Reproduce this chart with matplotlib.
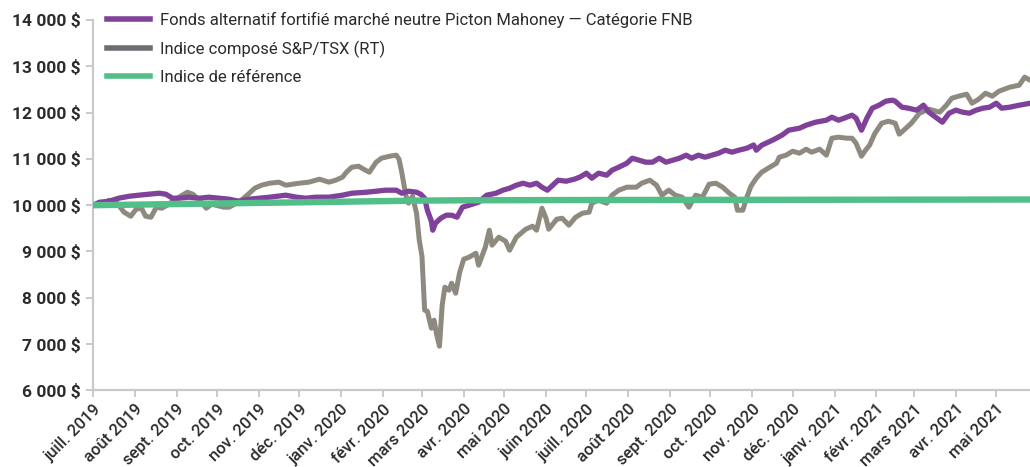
import matplotlib
matplotlib.use("Agg")
import matplotlib.pyplot as plt
import matplotlib.dates as mdates
from matplotlib.lines import Line2D
from matplotlib.ticker import FuncFormatter
import pandas as pd

# ---------------- data ----------------
tsx_dates = ["2019-07-01","2019-07-08","2019-07-13","2019-07-19","2019-07-24","2019-07-29","2019-08-02","2019-08-06",
"2019-08-09","2019-08-13","2019-08-17","2019-08-21","2019-08-25","2019-08-30","2019-09-04","2019-09-09","2019-09-13",
"2019-09-18","2019-09-23","2019-09-27","2019-09-30","2019-10-06","2019-10-10","2019-10-14","2019-10-19","2019-10-25",
"2019-10-29","2019-11-03","2019-11-09","2019-11-16","2019-11-21","2019-11-26","2019-12-01","2019-12-08","2019-12-16",
"2019-12-23","2019-12-28","2020-01-02","2020-01-05","2020-01-09","2020-01-14","2020-01-19","2020-01-22","2020-01-27",
"2020-01-31","2020-02-06","2020-02-11","2020-02-13","2020-02-15","2020-02-18","2020-02-20","2020-02-23","2020-02-26",
"2020-02-28","2020-03-01","2020-03-03","2020-03-05","2020-03-08","2020-03-10","2020-03-12","2020-03-14","2020-03-16",
"2020-03-18","2020-03-21","2020-03-23","2020-03-26","2020-03-29","2020-04-01","2020-04-05","2020-04-10","2020-04-12",
"2020-04-17","2020-04-20","2020-04-22","2020-04-27","2020-05-02","2020-05-05","2020-05-10","2020-05-17","2020-05-22",
"2020-05-25","2020-05-29","2020-06-01","2020-06-03","2020-06-09","2020-06-13","2020-06-18","2020-06-23","2020-06-28",
"2020-07-03","2020-07-05","2020-07-10","2020-07-16","2020-07-20","2020-07-25","2020-07-31","2020-08-07","2020-08-11",
"2020-08-17","2020-08-22","2020-08-26","2020-08-31","2020-09-05","2020-09-10","2020-09-15","2020-09-20","2020-09-25",
"2020-09-30","2020-10-05","2020-10-10","2020-10-15","2020-10-19","2020-10-21","2020-10-25","2020-10-28","2020-10-31",
"2020-11-04","2020-11-08","2020-11-14","2020-11-19","2020-11-21","2020-11-26","2020-12-01","2020-12-06","2020-12-11",
"2020-12-15","2020-12-21","2020-12-26","2020-12-30","2021-01-04","2021-01-10","2021-01-14","2021-01-17","2021-01-21",
"2021-01-24","2021-01-27","2021-01-31","2021-02-05","2021-02-10","2021-02-15","2021-02-18","2021-02-23","2021-02-27",
"2021-03-05","2021-03-12","2021-03-20","2021-03-25","2021-03-29","2021-04-03","2021-04-09","2021-04-13","2021-04-18",
"2021-04-23","2021-04-28","2021-05-03","2021-05-11","2021-05-18","2021-05-22","2021-05-26","2021-05-28"]
tsx_values = [10000,10022,10108,10043,9849,9762,9914,9935,
9762,9741,9957,9935,10000,10108,10194,10281,10238,
10108,9935,10022,10000,9957,9957,10022,10108,10259,
10367,10432,10475,10497,10432,10454,10475,10497,10562,
10497,10540,10605,10713,10821,10842,10756,10713,10929,
11015,11058,11080,10994,10713,10216,10043,10194,9827,
9244,8898,7732,7710,7343,7516,7192,6954,7840,
8229,8164,8315,8099,8553,8834,8877,8963,8704,
9093,9460,9136,9309,9222,9028,9309,9482,9546,
9460,9935,9719,9482,9698,9719,9568,9741,9827,
9849,10043,10108,10043,10216,10324,10389,10389,10475,
10540,10432,10216,10324,10216,10173,9957,10216,10173,
10454,10475,10389,10259,10173,9892,9892,10173,10410,
10583,10713,10821,10907,11037,11080,11166,11123,11210,
11145,11210,11080,11447,11469,11447,11447,11339,11058,
11188,11296,11555,11771,11814,11771,11534,11663,11771,
11987,12074,12009,12160,12311,12354,12398,12203,12290,
12419,12354,12462,12549,12592,12765,12700,12720]

fund_dates = ["2019-07-01","2019-07-06","2019-07-13","2019-07-20","2019-07-28","2019-08-04","2019-08-12","2019-08-19",
"2019-08-24","2019-08-29","2019-09-03","2019-09-10","2019-09-18","2019-09-25","2019-10-03","2019-10-10","2019-10-17",
"2019-10-25","2019-11-01","2019-11-09","2019-11-21","2019-11-29","2019-12-06","2019-12-13","2019-12-23","2020-01-02",
"2020-01-09","2020-01-20","2020-01-27","2020-02-03","2020-02-11","2020-02-15","2020-02-20","2020-02-26","2020-02-29",
"2020-03-03","2020-03-05","2020-03-08","2020-03-09","2020-03-11","2020-03-15","2020-03-19","2020-03-23","2020-03-27",
"2020-03-31","2020-04-05","2020-04-12","2020-04-18","2020-04-25","2020-04-30","2020-05-05","2020-05-10","2020-05-15",
"2020-05-20","2020-05-25","2020-05-29","2020-06-02","2020-06-06","2020-06-10","2020-06-16","2020-06-22","2020-06-26",
"2020-07-01","2020-07-05","2020-07-10","2020-07-16","2020-07-20","2020-07-25","2020-07-31","2020-08-04","2020-08-09",
"2020-08-14","2020-08-19","2020-08-24","2020-08-29","2020-09-03","2020-09-08","2020-09-13","2020-09-17","2020-09-22",
"2020-09-27","2020-10-02","2020-10-07","2020-10-12","2020-10-17","2020-10-22","2020-10-28","2020-11-02","2020-11-04",
"2020-11-08","2020-11-16","2020-11-23","2020-11-28","2020-12-06","2020-12-11","2020-12-18","2020-12-26","2020-12-30",
"2021-01-04","2021-01-10","2021-01-14","2021-01-17","2021-01-21","2021-01-25","2021-01-29","2021-02-03","2021-02-08",
"2021-02-13","2021-02-15","2021-02-20","2021-02-25","2021-03-03","2021-03-08","2021-03-12","2021-03-18","2021-03-22",
"2021-03-27","2021-04-01","2021-04-06","2021-04-11","2021-04-16","2021-04-21","2021-04-26","2021-05-01","2021-05-05",
"2021-05-11","2021-05-18","2021-05-26","2021-05-28"]
fund_values = [10000,10065,10086,10151,10194,10216,10238,10259,
10238,10151,10151,10173,10151,10173,10151,10130,10086,
10130,10151,10173,10216,10173,10151,10173,10173,10216,
10259,10281,10302,10324,10324,10259,10302,10281,10238,
10151,9892,9654,9460,9611,9719,9784,9784,9741,
9957,10000,10065,10216,10259,10324,10367,10432,10475,
10432,10475,10389,10324,10432,10540,10518,10562,10605,
10691,10583,10691,10648,10756,10821,10907,11015,10972,
10929,10929,11015,10929,10972,11015,11080,11015,11080,
11037,11080,11123,11188,11145,11188,11231,11300,11188,
11296,11404,11512,11620,11663,11728,11793,11836,11901,
11836,11901,11944,11879,11620,11879,12095,12160,12246,
12268,12246,12117,12095,12052,12160,12009,11879,11793,
11987,12052,12009,11987,12052,12095,12117,12203,12095,
12117,12160,12203,12210]

bench_dates = ["2019-07-01","2019-08-01","2019-09-01","2019-10-01","2019-11-01","2019-12-01","2020-01-01",
"2020-02-01","2020-03-01","2020-04-01","2020-05-01","2020-06-01","2020-07-01","2020-08-01","2020-09-01",
"2020-10-01","2020-11-01","2020-12-01","2021-01-01","2021-02-01","2021-03-01","2021-04-01","2021-05-01","2021-05-28"]
bench_values = [10000,10012,10025,10037,10050,10062,10075,
10088,10100,10106,10108,10110,10112,10113,10114,
10115,10116,10117,10118,10119,10120,10121,10122,10123]

series_labels = ["Fonds alternatif fortifié marché neutre Picton Mahoney \u2014 Catégorie FNB",
                 "Indice composé S&P/TSX (RT)",
                 "Indice de référence"]
month_labels = ["juill. 2019","août 2019","sept. 2019","oct. 2019","nov. 2019","déc. 2019",
                "janv. 2020","févr. 2020","mars 2020","avr. 2020","mai 2020","juin 2020",
                "juill. 2020","août 2020","sept. 2020","oct. 2020","nov. 2020","déc. 2020",
                "janv. 2021","févr. 2021","mars 2021","avr. 2021","mai 2021"]
y_ticks = [6000,7000,8000,9000,10000,11000,12000,13000,14000]

# ---------------- style ----------------
plt.rcParams['font.family'] = ['Roboto', 'DejaVu Sans']
purple = "#80419a"
gray_line = "#8f8a7f"
gray_legend = "#6c6d72"
green = "#52be88"
axis_col = "#c9c9c9"
text_col = "#2b2b2b"

fig = plt.figure(figsize=(10.30, 4.67), dpi=100)
ax = fig.add_axes([93/1030, (467-390.4)/467, 1 - 93/1030, (390.4-20)/467])

ax.plot(pd.to_datetime(tsx_dates), tsx_values, color=gray_line, lw=3.6, solid_joinstyle='round', zorder=2)
ax.plot(pd.to_datetime(fund_dates), fund_values, color=purple, lw=3.8, solid_joinstyle='round', zorder=3)
ax.plot(pd.to_datetime(bench_dates), bench_values, color=green, lw=4.6, zorder=4)

ax.set_ylim(6000, 14000)
ax.set_xlim(pd.Timestamp("2019-07-01"), pd.Timestamp("2021-05-26"))

ax.set_yticks(y_ticks)
ax.yaxis.set_major_formatter(FuncFormatter(lambda v, p: f"{int(v):,} $".replace(",", " ")))
tick_dates = pd.date_range("2019-07-01", periods=len(month_labels), freq="MS")
ax.set_xticks(tick_dates)
ax.set_xticklabels(month_labels)

for sp in ["top", "right"]:
    ax.spines[sp].set_visible(False)
for sp in ["left", "bottom"]:
    ax.spines[sp].set_color(axis_col)
    ax.spines[sp].set_linewidth(1.6)

ax.tick_params(axis='y', length=5, width=1.4, color=axis_col, pad=4, labelsize=12.5, labelcolor=text_col)
ax.tick_params(axis='x', length=5, width=1.4, color=axis_col, pad=3, labelsize=12, labelcolor=text_col)
for lab in ax.get_yticklabels():
    lab.set_fontweight('bold')
for lab in ax.get_xticklabels():
    lab.set_rotation(45)
    lab.set_ha('right')
    lab.set_rotation_mode('anchor')
    lab.set_fontweight('medium')

handles = [Line2D([0], [0], color=purple, lw=4),
           Line2D([0], [0], color=gray_legend, lw=4),
           Line2D([0], [0], color=green, lw=4)]
leg = fig.legend(handles, series_labels, loc='upper left', bbox_to_anchor=(107/1030, 1 - 12/467),
                 frameon=False, fontsize=12, handlelength=2.6, handletextpad=0.55,
                 labelspacing=0.75, borderpad=0, borderaxespad=0)
for t in leg.get_texts():
    t.set_color(text_col)

fig.savefig("out.png", dpi=100)
